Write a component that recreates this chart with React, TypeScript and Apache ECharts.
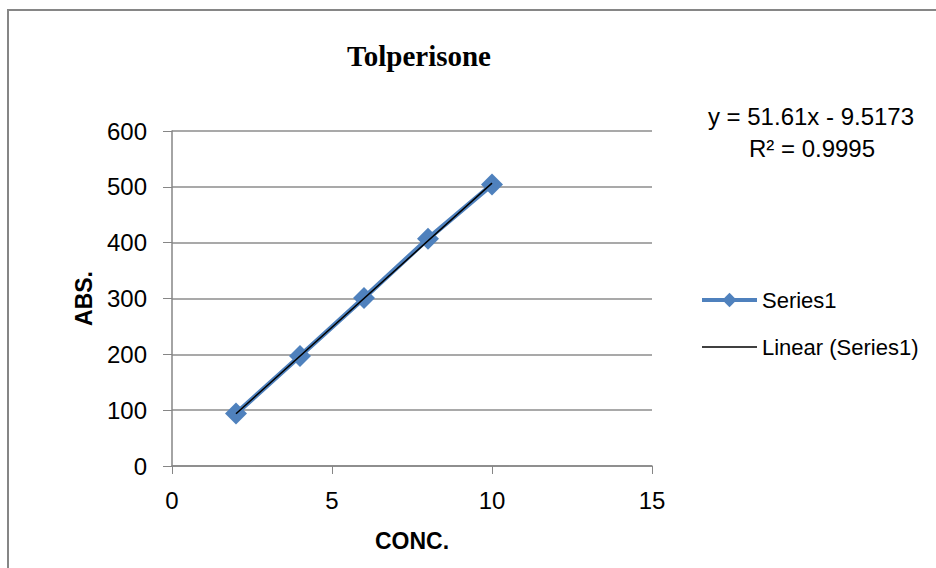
import React, { useEffect, useRef } from "react";
import * as echarts from "echarts";

const concentrations = [2, 4, 6, 8, 10];
const absorbances = [94, 197, 301, 407, 504];
const slope = 51.61;
const intercept = -9.5173;
const rSquared = "0.9995";
const xTicks = [0, 5, 10, 15];
const yTicks = [0, 100, 200, 300, 400, 500, 600];

const sans = "'Liberation Sans', Arial, sans-serif";

export default function App() {
  const ref = useRef<HTMLDivElement>(null);
  useEffect(() => {
    if (!ref.current) return;
    const chart = echarts.init(ref.current, null, { renderer: "svg" });
    const seriesData = concentrations.map((x, i) => [x, absorbances[i]]);
    const xMinData = Math.min(...concentrations);
    const xMaxData = Math.max(...concentrations);
    const trendData = [xMinData, xMaxData].map((x) => [x, slope * x + intercept]);
    chart.setOption({
      animation: false,
      backgroundColor: "#ffffff",
      title: {
        text: "Tolperisone",
        left: 414,
        textAlign: "center",
        top: 36,
        textStyle: {
          fontFamily: "'Liberation Serif', 'DejaVu Serif', serif",
          fontWeight: "bold",
          fontSize: 29,
          color: "#000",
        },
      },
      legend: {
        orient: "vertical",
        left: 695,
        top: 284,
        itemGap: 25,
        itemWidth: 55,
        itemHeight: 18,
        textStyle: { fontFamily: sans, fontSize: 22, color: "#000" },
        data: [
          { name: "Series1", lineStyle: { width: 4 } },
          {
            name: "Linear (Series1)",
            lineStyle: { width: 1.5, color: "#000" },
            itemStyle: { opacity: 0 },
          },
        ],
      },
      graphic: [
        {
          type: "rect",
          shape: { x: 8, y: 10, width: 940, height: 570 },
          style: { fill: "none", stroke: "#868686", lineWidth: 2 },
          silent: true,
          z: -10,
        },
        {
          type: "text",
          x: 811,
          y: 116,
          style: {
            text: `y = ${slope}x - ${Math.abs(intercept)}`,
            fontFamily: sans,
            fontSize: 24,
            fill: "#000",
            align: "center",
            verticalAlign: "middle",
          },
        },
        {
          type: "text",
          x: 812,
          y: 148,
          style: {
            text: `R² = ${rSquared}`,
            fontFamily: sans,
            fontSize: 24,
            fill: "#000",
            align: "center",
            verticalAlign: "middle",
          },
        },
      ],
      grid: { left: 172, right: 284, top: 131, bottom: 102, containLabel: false },
      xAxis: {
        type: "value",
        min: xTicks[0],
        max: xTicks[xTicks.length - 1],
        interval: 5,
        name: "CONC.",
        nameLocation: "middle",
        nameGap: 63,
        nameTextStyle: { fontFamily: sans, fontWeight: "bold", fontSize: 23, color: "#000" },
        axisLine: { lineStyle: { color: "#868686", width: 1.5 } },
        axisTick: { show: true, length: 8, lineStyle: { color: "#868686" } },
        axisLabel: { fontFamily: sans, fontSize: 24, color: "#000", margin: 22 },
        splitLine: { show: false },
      },
      yAxis: {
        type: "value",
        min: yTicks[0],
        max: yTicks[yTicks.length - 1],
        interval: 100,
        name: "ABS.",
        nameLocation: "middle",
        nameGap: 77,
        nameRotate: 90,
        nameTextStyle: { fontFamily: sans, fontWeight: "bold", fontSize: 23, color: "#000" },
        axisLine: { show: true, lineStyle: { color: "#868686", width: 1.5 } },
        axisTick: { show: true, length: 9, lineStyle: { color: "#868686" } },
        axisLabel: { fontFamily: sans, fontSize: 24, color: "#000", margin: 25 },
        splitLine: { show: true, lineStyle: { color: "#8c8c8c", width: 1.5 } },
      },
      series: [
        {
          name: "Series1",
          type: "line",
          data: seriesData,
          symbol: "diamond",
          symbolSize: 22,
          lineStyle: { color: "#4F81BD", width: 5 },
          itemStyle: { color: "#4F81BD" },
          z: 2,
        },
        {
          name: "Linear (Series1)",
          type: "line",
          data: trendData,
          symbol: "none",
          lineStyle: { color: "#000", width: 1.5 },
          itemStyle: { color: "#000" },
          z: 3,
        },
      ],
    });
    return () => chart.dispose();
  }, []);
  return (
    <div
      ref={ref}
      style={{ position: "absolute", left: 0, top: 0, width: 936, height: 568 }}
    />
  );
}
